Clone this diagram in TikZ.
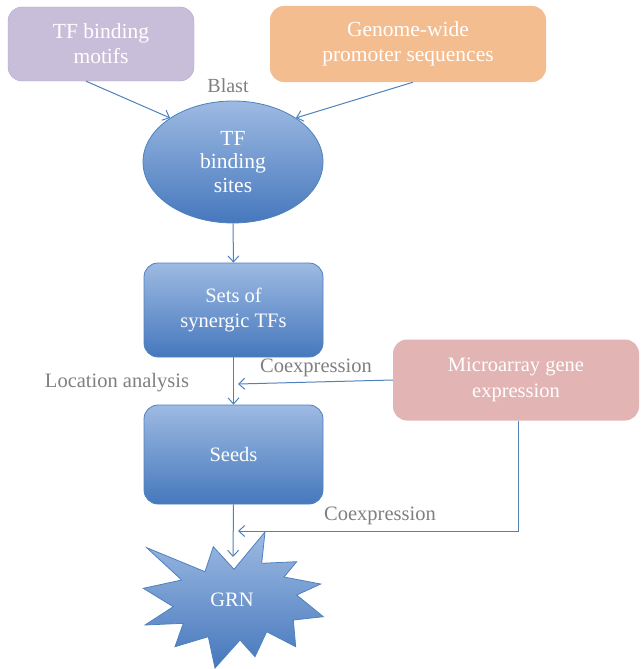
\documentclass[tikz,border=0pt]{standalone}
\usepackage{fontspec}
\setmainfont{Liberation Serif}
\usetikzlibrary{shapes.geometric,arrows.meta}

\definecolor{lineblue}{HTML}{4F81BD}
\definecolor{boxtop}{HTML}{9DBAE2}
\definecolor{boxbot}{HTML}{4678BD}
\definecolor{lavender}{HTML}{C9BEDA}
\definecolor{lavedge}{HTML}{B1A3C8}
\definecolor{peach}{HTML}{F4BD90}
\definecolor{rose}{HTML}{E3B4B4}
\definecolor{labgray}{HTML}{7F7F7F}

\begin{document}
\begin{tikzpicture}[x=1pt,y=-1pt,
  small/.style={font=\fontsize{21.5}{25}\selectfont},
  large/.style={font=\fontsize{20.5}{25.5}\selectfont},
  shade/.style={top color=boxtop,bottom color=boxbot,draw=lineblue,line width=0.8pt},
  bluebox/.style={shade,rounded corners=14pt,large,text=white,align=center},
  flatbox/.style={rounded corners=14pt,text=white,align=center},
  lab/.style={text=labgray,large},
  arr/.style={draw=lineblue,line width=1pt,-{Straight Barb[length=6pt,width=11pt]}}]
\useasboundingbox (0,0) rectangle (640,669);

% input boxes
\node [flatbox,small,fill=lavender,draw=lavedge,minimum width=186pt,minimum height=74pt] (motifs) at(101,44){TF binding\\motifs};
\node [flatbox,small,fill=peach,minimum width=276pt,minimum height=76pt] (genome) at(408,44){Genome-wide\\promoter sequences};
\node [flatbox,large,fill=rose,minimum width=246pt,minimum height=81pt] (micro) at(516,380){Microarray gene\\expression};

% binding sites
\node [shade,ellipse,inner sep=0pt,minimum width=180pt,minimum height=122pt,font=\fontsize{21.5}{23.5}\selectfont,text=white,align=center] (tfbs) at(233,162){TF\\binding\\sites};
\node [lab,font=\fontsize{20}{24}\selectfont] (blast) at(228,86){Blast};

\node [bluebox,minimum width=179pt,minimum height=94pt] (sets) at(233.5,310){Sets of\\synergic TFs};
\node [bluebox,minimum width=179pt,minimum height=99pt] (seeds) at(233.5,454.5){Seeds};

% GRN star
\draw [shade] (265,532) -- (261.7,563.3) -- (296.7,561.7) -- (284,577) -- (320.7,584)
  -- (296.7,595) -- (323.3,616.7) -- (293.3,620) -- (295.7,646.7) -- (266.7,631.7)
  -- (255,656.7) -- (240,640) -- (215,668) -- (208.3,636.7) -- (175,646.7)
  -- (183.3,623.3) -- (145,625) -- (173.3,606.7) -- (143.3,588.3) -- (181.7,580)
  -- (146.7,547.7) -- (205,571.7) -- (213.3,546.7) -- (234,569.3) -- cycle;
\node [large,text=white] (grn) at(232,600){GRN};
\coordinate (grntop) at(233,557);

\node [lab] (loc) at(117,383){Location analysis};
\node [lab] (co1) at(316,368){Coexpression};
\node [lab] (co2) at(380,516){Coexpression};
\coordinate (j1) at(238,384);
\coordinate (j2) at(238,531);

\draw[arr] ([xshift=-15pt]motifs.south) -- (tfbs.145);
\draw[arr] ([xshift=5pt]genome.south) -- (tfbs.35);
\draw[arr] (tfbs.south) -- (sets.north);
\draw[arr] (sets.south) -- (seeds.north);
\draw[arr] (seeds.south) -- (grntop);
\draw[arr] (micro.west) -- (j1);
\draw[arr] ([xshift=2pt]micro.south) |- (j2);

\end{tikzpicture}
\end{document}
